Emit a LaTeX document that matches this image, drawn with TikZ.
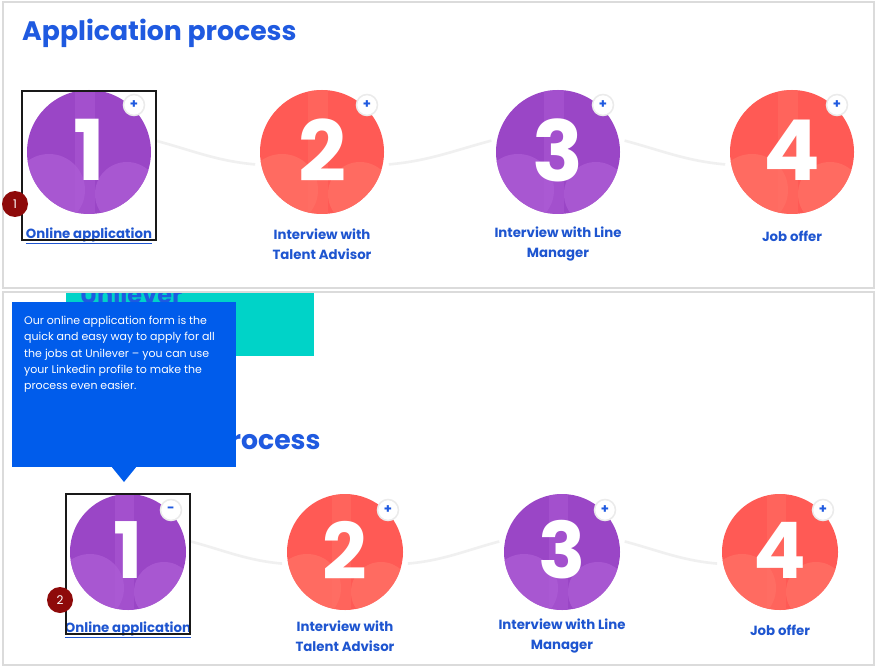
\documentclass[tikz,border=0pt]{standalone}
\usepackage{fontspec}
\setmainfont{Poppins}
\usepackage{tikz}
\usetikzlibrary{positioning, arrows.meta, shapes.geometric}

\definecolor{uBlue}{HTML}{1F5AE0}
\definecolor{uLabel}{HTML}{1E55D0}
\definecolor{uTip}{HTML}{005CEB}
\definecolor{uTeal}{HTML}{00D3C8}
\definecolor{uPurple}{HTML}{9A46C6}
\definecolor{uPurpleL}{HTML}{AE5DD6}
\definecolor{uCoral}{HTML}{FF5A55}
\definecolor{uCoralL}{HTML}{FF7166}
\definecolor{uMark}{HTML}{8E0A0A}

\tikzset{
  panel/.style={draw=black!14, line width=1.2pt},
  wave/.style={draw=black!6, line width=2.6pt, shorten <=6pt, shorten >=6pt},
  plusdot/.style={circle, fill=white, draw=black!8, line width=1.5pt, minimum size=21pt, inner sep=0pt,
    text=uBlue, font=\bfseries\fontsize{13}{13}\selectfont},
  steplabel/.style={align=center, text=uLabel, font=\bfseries\fontsize{13.3}{19.5}\selectfont},
  marker/.style={circle, fill=uMark, minimum size=26pt, inner sep=0pt, text=white,
    font=\fontsize{12}{12}\selectfont},
  highlight/.style={draw=black!90, line width=1.3pt},
}

\begin{document}
\begin{tikzpicture}[x=1pt, y=-1pt]
\useasboundingbox (0,0) rectangle (877,668);
\fill[white] (0,0) rectangle (877,668);

% --- upper panel
\draw[panel] (3,2) rectangle (874,288);
\node[anchor=base west, text=uBlue, font=\bfseries\fontsize{26.7}{26.7}\selectfont, inner sep=0pt] (title1) at (22,41) {Application process};

\foreach \n/\x/\d/\c in {1/89/1/uPurple, 2/322/2/uCoral, 3/558/3/uPurple, 4/792/4/uCoral} {
  \node[circle, fill=\c, minimum size=124pt, inner sep=0pt] (s\n) at (\x,152) {};
}
\draw[wave] (s1.12) to[out=-15, in=175] (s2.192);
\draw[wave] (s2.-12) to[out=5, in=195] (s3.168);
\draw[wave] (s3.12) to[out=-15, in=175] (s4.192);

% circle textures
\foreach \n/\c in {1/uPurpleL, 2/uCoralL, 3/uPurpleL, 4/uCoralL} {
  \begin{scope}
    \clip (s\n) circle (62pt);
    \fill[\c, opacity=.75] ([shift={(-40,38)}]s\n.center) circle (36pt);
    \fill[\c, opacity=.75] ([shift={(38,42)}]s\n.center) circle (32pt);
    \fill[\c, opacity=.45] ([shift={(-14,-70)}]s\n.center) rectangle ([shift={(6,70)}]s\n.center);
  \end{scope}
}
\foreach \n/\d in {1/1, 2/2, 3/3, 4/4} {
  \node[text=white, font=\bfseries\fontsize{84}{84}\selectfont, inner sep=0pt] at ([yshift=2]s\n.center) {\d};
  \node[plusdot] (p\n) at ([shift={(45,-47)}]s\n.center) {+};
}

\node[steplabel] (l1) at (89,236) {\underline{Online application}};
\node[steplabel] (l2) at (322,244) {Interview with\\Talent Advisor};
\node[steplabel] (l3) at (558,244) {Interview with Line\\Manager};
\node[steplabel] (l4) at (792,236) {Job offer};

\draw[highlight] (22,91) rectangle (156,240);
\node[marker] (m1) at (15,204) {1};

% --- lower panel
\draw[panel] (3,292) rectangle (874,665);
\begin{scope}
  \clip (66,293) rectangle (314,356);
  \fill[uTeal] (66,293) rectangle (314,356);
  \node[anchor=base west, text=uBlue, font=\bfseries\fontsize{24}{24}\selectfont, inner sep=0pt] (brand) at (80,303) {Unilever};
\end{scope}
\node[anchor=base west, text=uBlue, font=\bfseries\fontsize{26.7}{26.7}\selectfont, inner sep=0pt] (title2) at (46,449) {Application process};

\foreach \n/\x/\d/\c in {1/128/1/uPurple, 2/345/2/uCoral, 3/562/3/uPurple, 4/780/4/uCoral} {
  \node[circle, fill=\c, minimum size=116pt, inner sep=0pt] (b\n) at (\x,552) {};
}
\draw[wave] (b1.12) to[out=-15, in=175] (b2.192);
\draw[wave] (b2.-12) to[out=5, in=195] (b3.168);
\draw[wave] (b3.12) to[out=-15, in=175] (b4.192);

\foreach \n/\c in {1/uPurpleL, 2/uCoralL, 3/uPurpleL, 4/uCoralL} {
  \begin{scope}
    \clip (b\n) circle (58pt);
    \fill[\c, opacity=.75] ([shift={(-38,36)}]b\n.center) circle (34pt);
    \fill[\c, opacity=.75] ([shift={(36,40)}]b\n.center) circle (30pt);
    \fill[\c, opacity=.45] ([shift={(-13,-66)}]b\n.center) rectangle ([shift={(6,66)}]b\n.center);
  \end{scope}
}
\foreach \n/\d/\s in {1/1/-, 2/2/+, 3/3/+, 4/4/+} {
  \node[text=white, font=\bfseries\fontsize{78}{78}\selectfont, inner sep=0pt] at ([yshift=2]b\n.center) {\d};
  \node[plusdot] (q\n) at ([shift={(43,-42)}]b\n.center) {\s};
}

\node[steplabel] (k1) at (128,630) {\underline{Online application}};
\node[steplabel] (k2) at (345,636) {Interview with\\Talent Advisor};
\node[steplabel] (k3) at (562,636) {Interview with Line\\Manager};
\node[steplabel] (k4) at (780,630) {Job offer};

% tooltip over the lower title
\fill[uTip] (12,302) rectangle (236,467);
\fill[uTip] (111,466) -- (137,466) -- (124,482) -- cycle;
\node[anchor=north west, align=left, text=white, inner sep=0pt,
  font=\fontsize{11}{16.3}\selectfont] (tip) at (24,316)
  {Our online application form is the\\quick and easy way to apply for all\\the jobs at Unilever -- you can use\\your Linkedin profile to make the\\process even easier.};

\draw[highlight] (66,494) rectangle (190,634);
\node[marker] (m2) at (60,600) {2};
\end{tikzpicture}
\end{document}
